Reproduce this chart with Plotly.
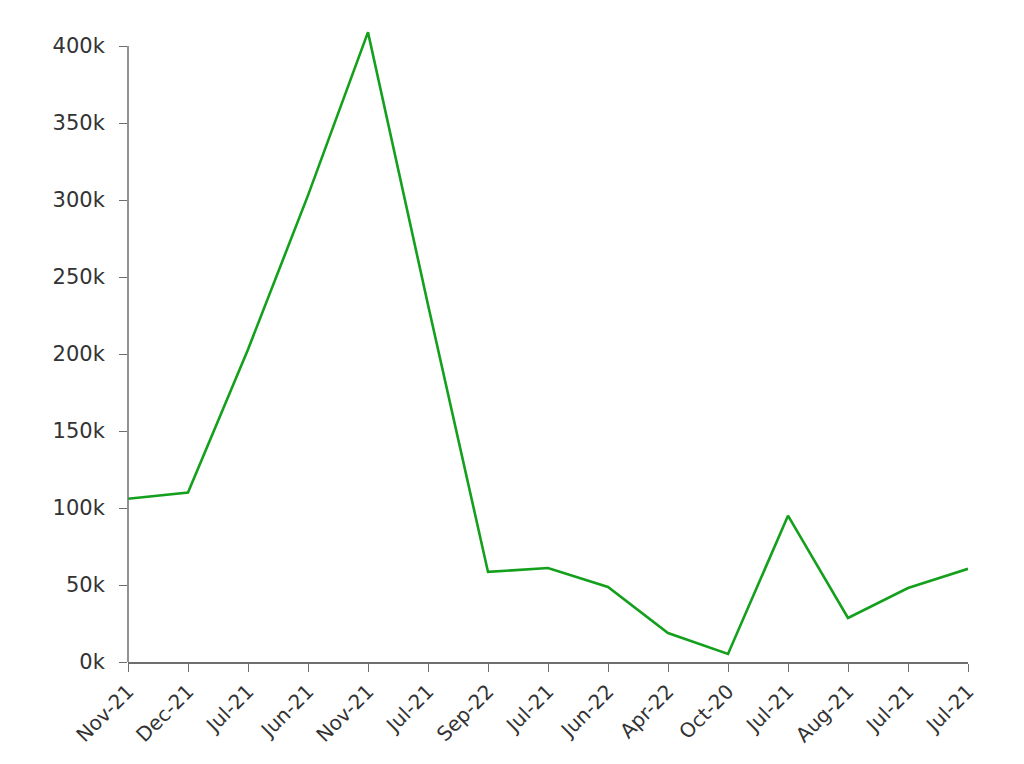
import plotly.graph_objects as go

categories = ["Nov-21", "Dec-21", "Jul-21", "Jun-21", "Nov-21", "Jul-21", "Sep-22",
              "Jul-21", "Jun-22", "Apr-22", "Oct-20", "Jul-21", "Aug-21", "Jul-21", "Jul-21"]
values = [106000, 110000, 203000, 303000, 409000, 232000, 58500, 61000, 48700,
          18800, 5200, 95000, 28600, 48000, 60500]
y_ticks = [0, 50000, 100000, 150000, 200000, 250000, 300000, 350000, 400000]
y_tick_labels = ["0k", "50k", "100k", "150k", "200k", "250k", "300k", "350k", "400k"]

x_idx = list(range(len(categories)))

fig = go.Figure()
fig.add_trace(go.Scatter(
    x=x_idx, y=values, mode="lines",
    line=dict(color="#14a01c", width=2.6),
    hoverinfo="skip", showlegend=False,
))

axis_color = "#6e6e6e"
fig.add_shape(type="line", xref="paper", yref="y", x0=0, x1=0,
              y0=y_ticks[0], y1=y_ticks[-1],
              line=dict(color=axis_color, width=1.5), layer="above")

fig.update_layout(
    width=1024, height=764,
    margin=dict(l=120, r=64, t=20, b=110),
    paper_bgcolor="white", plot_bgcolor="white",
    font=dict(family="DejaVu Sans", color="#333333", size=18),
    xaxis=dict(
        range=[0, 14], tickvals=x_idx, ticktext=categories, tickangle=-45,
        showgrid=False, zeroline=False, showline=True, linecolor=axis_color, linewidth=1.5,
        ticks="outside", ticklen=8, tickcolor=axis_color, tickwidth=1.2,
        tickfont=dict(size=20, color="#333333"),
    ),
    yaxis=dict(
        range=[0, 411700], tickvals=y_ticks, ticktext=y_tick_labels,
        showgrid=False, zeroline=False, showline=False,
        ticks="outside", ticklen=8, tickcolor=axis_color, tickwidth=1.2,
        ticklabelstandoff=10,
        tickfont=dict(size=21, color="#333333"),
    ),
)

fig.write_html("out.html")
